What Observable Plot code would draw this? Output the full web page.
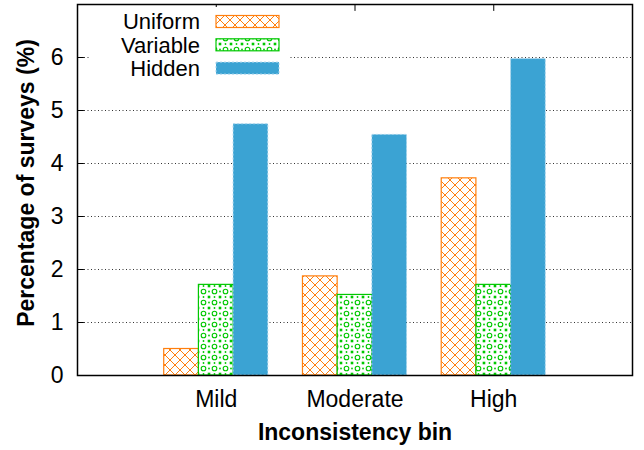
<!DOCTYPE html>
<html>
<head>
<meta charset="utf-8">
<script src="https://cdn.jsdelivr.net/npm/d3@7"></script>
<script src="https://cdn.jsdelivr.net/npm/@observablehq/plot@0.6"></script>
<style>
  html, body { margin: 0; padding: 0; background: white; }
</style>
</head>
<body>
<div id="chart"></div>
<script>
const categories = ["Mild", "Moderate", "High"];
const series = ["Uniform", "Variable", "Hidden"];
const uniform = [0.50, 1.87, 3.72];
const variable = [1.71, 1.52, 1.71];
const hidden = [4.74, 4.54, 5.97];
const yTicks = [0, 1, 2, 3, 4, 5, 6];
const xLabel = "Inconsistency bin";
const yLabel = "Percentage of surveys (%)";

const ORANGE = "#ff7f0e";
const GREEN = "#00c800";
const BLUE = "#3ba3d3";

const values = [uniform, variable, hidden];
const barW = 0.25;
const rows = [];
series.forEach((s, si) => {
  categories.forEach((c, ci) => {
    const x1 = ci + 1 + (si - 1.5) * barW;
    rows.push({series: s, category: c, x1, x2: x1 + barW, value: values[si][ci]});
  });
});

const styles = {
  Uniform: {fill: "url(#pUniform)", stroke: ORANGE, strokeWidth: 1.2},
  Variable: {fill: "url(#pVariable)", stroke: GREEN, strokeWidth: 1.2},
  Hidden: {fill: BLUE, stroke: "#a8d4ec", strokeWidth: 1, strokeDasharray: "2,2"}
};

const barMarks = series.map(s => Plot.rectY(rows.filter(d => d.series === s), {
  x1: "x1", x2: "x2", y1: 0, y2: "value", ...styles[s]
}));

const tickShape = {draw(context, l) { context.moveTo(0, 0); context.lineTo(0, -l); }};

const chart = Plot.plot({
  width: 644,
  height: 450,
  marginLeft: 77,
  marginRight: 12,
  marginTop: 4,
  marginBottom: 75,
  style: {fontFamily: "'Liberation Sans', Arial, sans-serif", fontSize: "22px", background: "white", color: "black"},
  x: {domain: [0, 4]},
  y: {domain: [0, 7]},
  marks: [
    Plot.ruleY(yTicks.filter(v => v > 0), {stroke: "#333", strokeDasharray: "1,2.5", strokeWidth: 1}),
    ...barMarks,
    Plot.axisX({ticks: [1, 2, 3], tickSize: 0, tickPadding: 15, tickFormat: i => categories[i - 1], fontSize: 23, label: null}),
    Plot.axisY({ticks: yTicks, tickSize: 0, tickPadding: 14, tickFormat: d => String(d), fontSize: 23, label: null}),
    Plot.vector(yTicks.filter(v => v > 0), {y: d => d, frameAnchor: "left", rotate: 90, anchor: "start", length: 6, shape: tickShape, stroke: "black", strokeWidth: 1}),
    Plot.vector([1, 2, 3], {x: d => d, frameAnchor: "top", rotate: 180, anchor: "start", length: 6, shape: tickShape, stroke: "black", strokeWidth: 1}),
    Plot.frame({stroke: "black", strokeWidth: 1.5}),
    Plot.text([xLabel], {frameAnchor: "bottom", lineAnchor: "middle", textAnchor: "middle", dy: 57, fontWeight: "bold", fontSize: 23, fill: "black"}),
    Plot.text([yLabel], {frameAnchor: "left", lineAnchor: "middle", textAnchor: "middle", rotate: -90, dx: -51, dy: -7, fontWeight: "bold", fontSize: 23, fill: "black"})
  ]
});

const svg = d3.select(chart);
const defs = svg.insert("defs", ":first-child");

const pu = defs.append("pattern").attr("id", "pUniform").attr("patternUnits", "userSpaceOnUse")
  .attr("width", 10).attr("height", 10);
pu.append("rect").attr("width", 10).attr("height", 10).attr("fill", "white");
pu.append("path").attr("d", "M0,0L10,10M10,0L0,10").attr("stroke", ORANGE).attr("stroke-width", 1);

const pv = defs.append("pattern").attr("id", "pVariable").attr("patternUnits", "userSpaceOnUse")
  .attr("width", 11).attr("height", 11);
pv.append("rect").attr("width", 11).attr("height", 11).attr("fill", "white");
pv.append("circle").attr("cx", 5.5).attr("cy", 5.5).attr("r", 2.3).attr("fill", "none").attr("stroke", GREEN).attr("stroke-width", 1.1);
[[0,0],[11,0],[0,11],[11,11]].forEach(([x, y]) => pv.append("rect").attr("x", x - 1.3).attr("y", y - 1.3).attr("width", 2.6).attr("height", 2.6).attr("fill", GREEN));
[[5.5,0],[0,5.5],[11,5.5],[5.5,11]].forEach(([x, y]) => pv.append("circle").attr("cx", x).attr("cy", y).attr("r", 0.9).attr("fill", GREEN));

// Legend (inside plot, top-left)
const lg = svg.append("g").attr("class", "legend");
lg.append("rect").attr("x", 90).attr("y", 7).attr("width", 200).attr("height", 73).attr("fill", "white");
const legendFills = {Uniform: "url(#pUniform)", Variable: "url(#pVariable)", Hidden: BLUE};
series.forEach((s, i) => {
  const cy = 21.5 + i * 23.3;
  lg.append("text").attr("x", 200).attr("y", cy).attr("dy", "0.35em").attr("text-anchor", "end")
    .attr("font-family", "'Liberation Sans', Arial, sans-serif").attr("font-size", 22).attr("fill", "black").text(s);
  lg.append("rect").attr("x", 216).attr("y", cy - 6).attr("width", 63).attr("height", 12)
    .attr("fill", legendFills[s])
    .attr("stroke", styles[s].stroke).attr("stroke-width", styles[s].strokeWidth)
    .attr("stroke-dasharray", styles[s].strokeDasharray || null);
});

document.getElementById("chart").appendChild(chart);
</script>
</body>
</html>
